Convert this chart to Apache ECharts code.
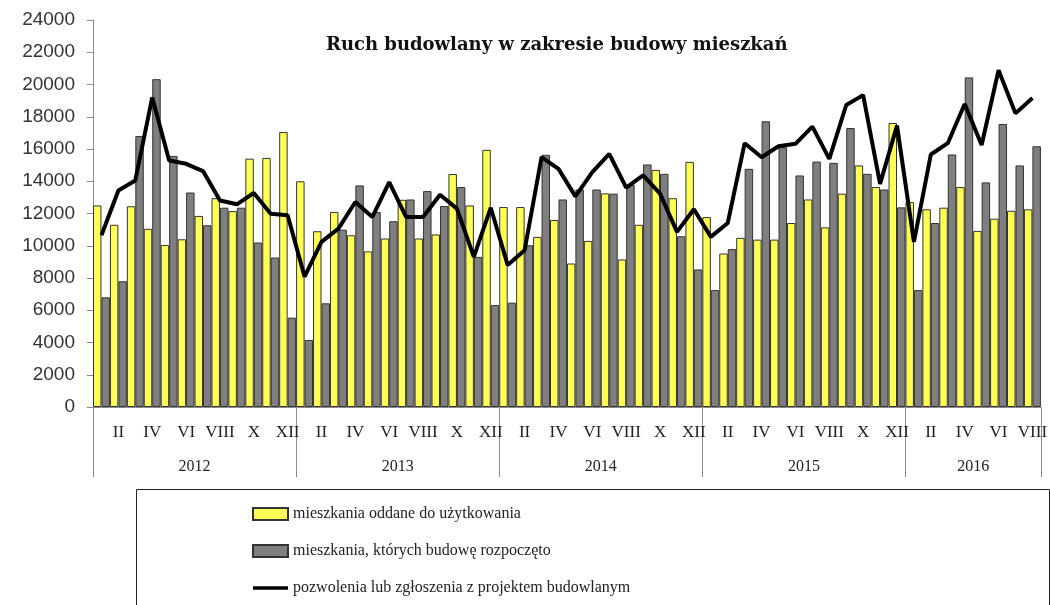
<!DOCTYPE html>
<html>
<head>
<meta charset="utf-8">
<script src="https://cdn.jsdelivr.net/npm/echarts@6/dist/echarts.min.js"></script>
<style>
html,body{margin:0;padding:0;background:#fff;}
#c{width:1050px;height:605px;}
</style>
</head>
<body>
<div id="c"></div>
<script>
// ---- data ----
const years = ['2012', '2013', '2014', '2015', '2016'];
const monthsPerYear = [12, 12, 12, 12, 8];
const monthRoman = ['I','II','III','IV','V','VI','VII','VIII','IX','X','XI','XII'];

const seriesNames = [
  'mieszkania oddane do użytkowania',
  'mieszkania, których budowę rozpoczęto',
  'pozwolenia lub zgłoszenia z projektem budowlanym'
];

const completed = [
  12500, 11300, 12450, 11050, 10050, 10400, 11850, 12950, 12150, 15400, 15450, 17050,
  14000, 10900, 12100, 10650, 9650, 10450, 12850, 10450, 10700, 14450, 12500, 15950,
  12400, 12400, 10550, 11600, 8900, 10300, 13250, 9150, 11300, 14700, 12950, 15200,
  11780, 9520, 10490, 10380, 10380, 11410, 12870, 11140, 13230, 14980, 13640, 17610,
  12710, 12260, 12360, 13640, 10920, 11680, 12170, 12260
];
const started = [
  6800, 7800, 16800, 20330, 15570, 13300, 11270, 12360, 12360, 10200, 9270, 5540,
  4160, 6430, 11000, 13740, 12090, 11520, 12870, 13390, 12460, 13640, 9310, 6320,
  6470, 10030, 15640, 12870, 13490, 13490, 13230, 13780, 15040, 14460, 10590, 8530,
  7250, 9790, 14770, 17720, 16110, 14360, 15220, 15140, 17300, 14460, 13490, 12380,
  7250, 11410, 15660, 20440, 13930, 17550, 14980, 16170
];
const permits = [
  10650, 13430, 14050, 19200, 15290, 15080, 14630, 12810, 12570, 13270, 11990, 11890,
  8080, 10240, 11060, 12710, 11780, 13950, 11780, 11780, 13160, 12300, 9310, 12360,
  8800, 9720, 15490, 14770, 13060, 14560, 15700, 13600, 14360, 13230, 10860, 12260,
  10550, 11410, 16360, 15490, 16170, 16320, 17390, 15390, 18730, 19340, 13840, 17450,
  10240, 15660, 16360, 18790, 16250, 20890, 18210, 19160
];

// build categories (year-month)
const categories = [];
const yearMid = {};
let idx = 0;
years.forEach((y, k) => {
  yearMid[idx + monthsPerYear[k] / 2] = y;
  for (let m = 0; m < monthsPerYear[k]; m++) {
    categories.push(y + ' ' + monthRoman[m]);
  }
  idx += monthsPerYear[k];
});
const nCat = categories.length;

const chart = echarts.init(document.getElementById('c'), null, {renderer: 'canvas'});
const axisGray = '#8c8c8c';
const serif = '"Liberation Serif", "DejaVu Serif", serif';
const sans = '"Liberation Sans", Arial, sans-serif';

chart.setOption({
  backgroundColor: '#fff',
  animation: false,
  title: {
    text: 'Ruch budowlany w zakresie budowy mieszkań',
    left: 321, top: 31,
    textStyle: {fontFamily: '"DejaVu Serif", serif', fontWeight: 'bold', fontSize: 18, color: '#111'}
  },
  grid: {left: 93, right: 4, top: 20, bottom: 198, containLabel: false},
  legend: {
    orient: 'vertical',
    left: 247, top: 501,
    itemWidth: 35, itemHeight: 12, itemGap: 21,
    textStyle: {fontFamily: serif, fontSize: 16, color: '#222'},
    data: [
      {name: seriesNames[0], icon: 'rect'},
      {name: seriesNames[1], icon: 'rect'},
      {name: seriesNames[2], icon: 'path://M0,0 L36,0 L36,3.5 L0,3.5 Z',
       itemStyle: {color: '#000', borderWidth: 0}}
    ]
  },
  graphic: [{
    type: 'rect', left: 134, top: 487, z: -1,
    shape: {width: 913, height: 130},
    style: {fill: 'none', stroke: '#222', lineWidth: 1}
  }],
  xAxis: [
    {
      type: 'category', data: categories, boundaryGap: true,
      axisLine: {lineStyle: {color: axisGray}},
      axisTick: {show: false},
      axisLabel: {
        interval: (i) => i % 2 === 1,
        formatter: (v) => v.split(' ')[1],
        fontFamily: serif, fontSize: 17, color: '#222', margin: 17
      },
      splitLine: {show: false}
    },
    {
      type: 'value', min: 0, max: nCat, interval: 12, position: 'bottom',
      axisLine: {show: false},
      axisTick: {show: true, length: 70, lineStyle: {color: axisGray}},
      axisLabel: {show: false},
      splitLine: {show: false}
    },
    {
      type: 'value', min: 0, max: nCat, interval: 2, position: 'bottom',
      axisLine: {show: false},
      axisTick: {show: false},
      axisLabel: {
        formatter: (v) => yearMid[v] || '',
        fontFamily: serif, fontSize: 16, color: '#222', margin: 52,
        showMinLabel: true, showMaxLabel: true
      },
      splitLine: {show: false}
    }
  ],
  yAxis: {
    type: 'value', min: 0, max: 24000, interval: 2000,
    axisLine: {show: true, lineStyle: {color: axisGray}},
    axisTick: {show: true, length: 6, lineStyle: {color: axisGray}},
    axisLabel: {fontFamily: sans, fontSize: 19, color: '#333', margin: 18,
      formatter: (v) => String(v)},
    splitLine: {show: false}
  },
  series: [
    {
      name: seriesNames[0], type: 'bar', xAxisIndex: 0,
      data: completed, barGap: '0%', barCategoryGap: '0%',
      itemStyle: {color: '#ffff55', borderColor: '#333', borderWidth: 1}
    },
    {
      name: seriesNames[1], type: 'bar', xAxisIndex: 0,
      data: started, barGap: '0%', barCategoryGap: '0%',
      itemStyle: {color: '#7f7f7f', borderColor: '#333', borderWidth: 1}
    },
    {
      name: seriesNames[2], type: 'line', xAxisIndex: 0,
      data: permits, symbol: 'none', z: 5,
      lineStyle: {color: '#000', width: 4},
      itemStyle: {color: '#000'}
    }
  ]
});
</script>
</body>
</html>
